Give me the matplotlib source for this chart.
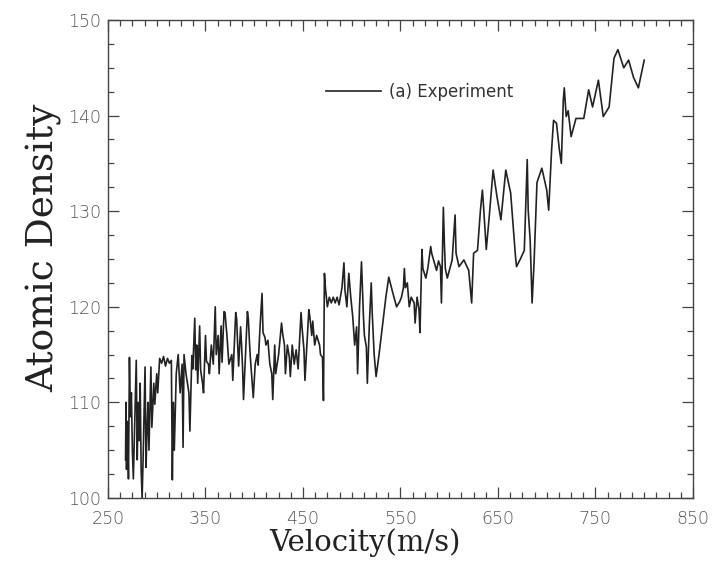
import matplotlib
matplotlib.use("Agg")
import matplotlib.pyplot as plt
from matplotlib.ticker import MultipleLocator

velocity = [268, 268.5, 269, 270, 271, 272, 273, 274, 275, 276, 277, 279, 280, 281, 282, 283, 284, 285, 286, 288,
            289, 290, 291, 292, 294, 295, 297, 298, 300, 301, 303, 305, 307, 309, 311, 313, 315, 316, 317, 318,
            320, 322, 324, 326, 327, 328, 330, 333, 334, 336, 337, 339, 340, 341, 342, 344, 345, 347, 348, 350,
            351, 353, 354, 356, 358, 360, 361, 363, 364, 366, 367, 369, 370, 372, 374, 377, 378, 380, 381, 382,
            383, 384, 386, 387, 388, 389, 391, 393, 394, 395, 396, 398, 399, 401, 403, 404, 406, 408, 409, 411,
            412, 414, 416, 418, 419, 421, 422, 425, 428, 429, 431, 432, 434, 436, 437, 439, 441, 443, 445, 448,
            449, 451, 452, 454, 456, 457, 459, 460, 462, 464, 467, 468, 470, 471, 472, 473, 475, 477, 479, 481,
            483, 485, 487, 490, 492, 493, 495, 497, 499, 501, 503, 505, 506, 508, 510, 511, 512, 513, 515, 516,
            518, 520, 521, 523, 525, 528, 531, 535, 538, 542, 546, 549, 551, 553, 554, 555, 557, 559, 561, 564,
            565, 567, 569, 570, 572, 573, 576, 578, 581, 582, 585, 587, 589, 591, 592, 594, 595, 596, 598, 603,
            606, 607, 610, 615, 620, 623, 625, 629, 632, 634, 635, 638, 641, 645, 649, 653, 658, 663, 668, 669,
            673, 677, 680, 681, 683, 685, 687, 690, 695, 700, 702, 705, 707, 710, 713, 715, 717, 718, 720, 722,
            725, 730, 738, 743, 747, 753, 758, 764, 769, 773, 779, 784, 789, 794, 800]

density = [104, 110, 103, 108, 102, 114.7, 108.5, 111, 105, 102, 106, 114.4, 104, 110, 106, 112, 103, 100, 104, 113.7,
           103.2, 107, 110, 105, 113.7, 107.4, 112, 109.8, 113, 111, 114.6, 114.1, 114.8, 113.8, 114.6, 114.1, 114.4, 101.9, 110, 105,
           113, 115, 111, 114, 105.3, 115, 113, 111, 107, 114.9, 113.5, 118.8, 113.4, 116, 112, 118, 113.4, 112, 111, 117,
           114.3, 114, 113, 116, 114, 120, 115, 117, 113, 118, 114.2, 119.5, 119.4, 117, 114, 115, 112.3, 117, 119.4, 118.7,
           116, 113.8, 117.9, 116, 113.7, 110.3, 115, 119.5, 118.7, 116.5, 114.7, 112, 110.5, 114, 115, 113.9, 118, 121.4, 117.3, 116.8,
           116, 116.5, 114, 113, 110.3, 116, 113, 115, 118.3, 117.3, 116, 113, 116, 114.7, 112.7, 116, 114, 115.5, 113.5, 119.4,
           117.9, 115.5, 112.3, 116, 119.7, 119, 117, 118.5, 116, 117, 116, 115, 114.7, 110.2, 123.5, 122, 120, 121, 120.4, 121,
           120.4, 121, 120.2, 122, 124.6, 121.8, 120, 123.5, 121, 119, 116, 117.9, 113, 120, 124.7, 121.8, 119, 117, 115.8, 112,
           118, 122.5, 119.4, 115, 112.7, 115, 117.6, 121, 123.1, 121.5, 120, 120.5, 121, 122, 124, 122, 122.5, 120, 121, 120.4,
           118.3, 121, 119.7, 117.3, 126, 124, 123, 124, 126.3, 125.6, 124.5, 123.8, 124.8, 124.2, 120.4, 130.4, 126.7, 124, 123, 124.9,
           129.6, 125.6, 124.2, 124.9, 123.8, 120.4, 125.6, 125.9, 130.1, 132.2, 130.8, 126, 129.4, 134.3, 131.5, 129.1, 134.3, 131.9, 125.2, 124.2,
           125, 125.9, 135.4, 130.1, 127, 120.4, 124.6, 133, 134.5, 132.2, 130.1, 136.4, 139.5, 139.2, 136.4, 135, 141.6, 142.9, 139.9, 140.5,
           137.8, 139.7, 139.7, 142.7, 140.9, 143.7, 139.9, 140.9, 146, 146.9, 145, 145.8, 144, 142.9, 145.8]

series_label = "(a) Experiment"
x_ticks = [250, 350, 450, 550, 650, 750, 850]
y_ticks = [100, 110, 120, 130, 140, 150]

fig = plt.figure(figsize=(7.19, 5.79), dpi=100)
ax = fig.add_axes([0.1502, 0.1399, 0.8136, 0.8256])

ax.plot(velocity, density, color="#222222", lw=1.2, label=series_label)

ax.set_xlim(250, 850)
ax.set_ylim(100, 150)
ax.set_xticks(x_ticks)
ax.set_yticks(y_ticks)
ax.xaxis.set_minor_locator(MultipleLocator(12.5))
ax.yaxis.set_minor_locator(MultipleLocator(2.5))
ax.tick_params(which="both", direction="in", top=True, right=True, color="#444444", width=0.9)
ax.tick_params(which="major", length=8, labelsize=12.5, labelcolor="#555555")
ax.tick_params(axis="x", which="major", pad=9)
ax.tick_params(axis="y", which="major", pad=5)
ax.tick_params(which="minor", length=4)
for lab in ax.get_xticklabels() + ax.get_yticklabels():
    lab.set_fontfamily("DejaVu Sans")
    lab.set_fontweight("light")
for s in ax.spines.values():
    s.set_color("#444444")
    s.set_linewidth(1.0)

ax.set_xlabel("Velocity(m/s)", fontsize=21, family="DejaVu Serif", color="#222222")
ax.set_ylabel("Atomic Density", fontsize=27, family="DejaVu Serif", color="#222222")
ax.xaxis.set_label_coords(0.439, -0.063)
ax.yaxis.set_label_coords(-0.079, 0.523)

ax.legend(loc="center left", bbox_to_anchor=(0.372, 0.849), frameon=False, fontsize=12,
          handlelength=3.3, handletextpad=0.5, borderpad=0, borderaxespad=0,
          labelcolor="#333333")

fig.savefig("out.png", dpi=100)
